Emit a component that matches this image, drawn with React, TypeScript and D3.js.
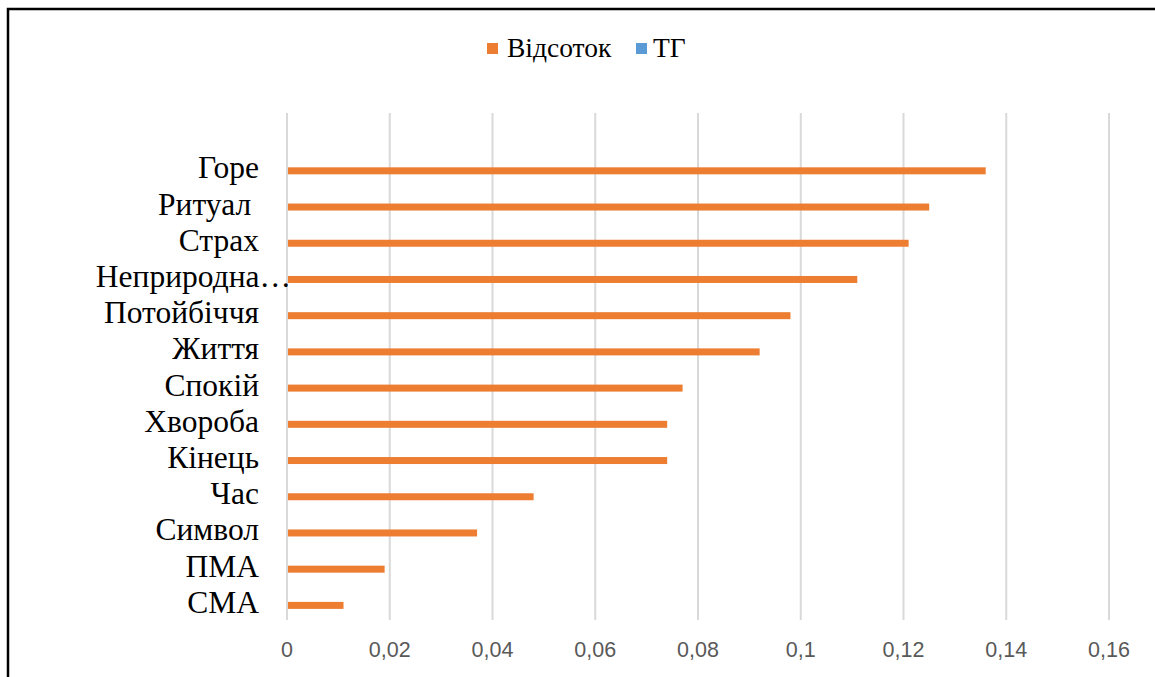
import React from "react";
import * as d3 from "d3";

const categories = ["", "Горе", "Ритуал ", "Страх", "Неприродна…", "Потойбіччя", "Життя", "Спокій", "Хвороба", "Кінець", "Час", "Символ", "ПМА", "СМА"];
const seriesNames = ["ТГ", "Відсоток"];
const percentValues = [NaN, 0.136, 0.125, 0.121, 0.111, 0.098, 0.092, 0.077, 0.074, 0.074, 0.048, 0.037, 0.019, 0.011];
const tgValues = [NaN, 0, 0, 0, 0, 0, 0, 0, 0, 0, 0, 0, 0, 0];
const xTicks = [0, 0.02, 0.04, 0.06, 0.08, 0.1, 0.12, 0.14, 0.16];
const colors: Record<string, string> = { "Відсоток": "#ED7D31", "ТГ": "#5B9BD5" };

const W = 1155;
const H = 677;

export default function App() {
  const x = d3.scaleLinear().domain([0, 0.16]).range([287, 1109]);
  const y = d3.scaleBand<string>().domain(categories.map((c, i) => String(i))).range([113, 620]).paddingInner(0).paddingOuter(0);
  const inner = d3.scaleBand<string>().domain(seriesNames).range([y.bandwidth() / 2 - 7, y.bandwidth() / 2 + 7]);
  const fmt = (v: number) => (v === 0 ? "0" : d3.format("")(v).replace(".", ","));

  const seriesData: Record<string, number[]> = { "Відсоток": percentValues, "ТГ": tgValues };

  return (
    <svg width={W} height={H} style={{ position: "absolute", left: 0, top: 0, background: "#fff" }}>
      <rect x={0} y={0} width={W} height={H} fill="#fff" />
      <rect x={8} y={9} width={1170} height={700} fill="none" stroke="#000" strokeWidth={2.5} />
      {xTicks.map((t) => (
        <line key={"g" + t} x1={x(t)} x2={x(t)} y1={113} y2={620} stroke="#D9D9D9" strokeWidth={2} />
      ))}
      {seriesNames.map((s) =>
        seriesData[s].map((v, i) =>
          isNaN(v) || v <= 0 ? null : (
            <rect
              key={s + i}
              x={x(0) + 1}
              y={(y(String(i)) as number) + (inner(s) as number)}
              width={x(v) - x(0) - 1}
              height={inner.bandwidth()}
              fill={colors[s]}
            />
          )
        )
      )}
      {categories.map((c, i) => (
        <text
          key={"c" + i}
          x={c.endsWith("…") ? 291 : 259}
          y={(y(String(i)) as number) + y.bandwidth() / 2}
          dy="0.35em"
          textAnchor="end"
          fontFamily="'Liberation Serif', serif"
          fontSize={31.5}
          fill="#000"
          style={{ whiteSpace: "pre" }}
        >
          {c}
        </text>
      ))}
      {xTicks.map((t) => (
        <text
          key={"t" + t}
          x={x(t)}
          y={657}
          textAnchor="middle"
          fontFamily="'Liberation Sans', sans-serif"
          fontSize={21.5}
          fill="#595959"
        >
          {fmt(t)}
        </text>
      ))}
      <g>
        <rect x={487} y={43} width={11} height={11} fill={colors["Відсоток"]} />
        <text x={507} y={57} fontFamily="'Liberation Serif', serif" fontSize={27.5} fill="#000">Відсоток</text>
        <rect x={636} y={43} width={11} height={11} fill={colors["ТГ"]} />
        <text x={653} y={57} fontFamily="'Liberation Serif', serif" fontSize={27.5} fill="#000">ТГ</text>
      </g>
    </svg>
  );
}
